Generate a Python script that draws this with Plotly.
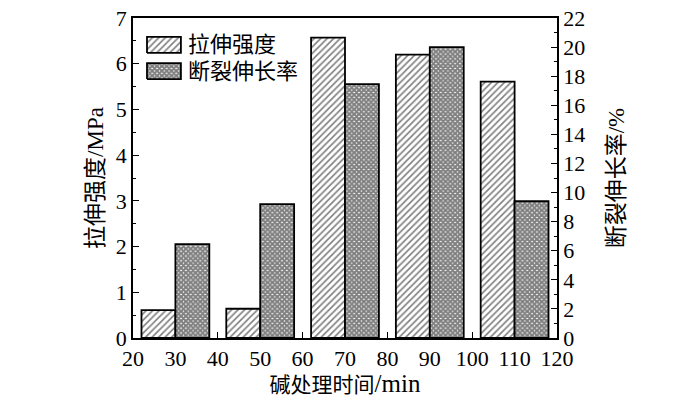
import plotly.graph_objects as go

time_min = [30, 50, 70, 90, 110]
tensile_mpa = [0.61, 0.64, 6.57, 6.20, 5.61]
elongation_pct = [6.45, 9.2, 17.45, 20.0, 9.4]
name_tensile = "拉伸强度"
name_elong = "断裂伸长率"

FONT = "Liberation Serif, Times New Roman, Noto Sans CJK SC, serif"
HATCH = dict(shape="/", fgcolor="black", bgcolor="white", size=4.6, solidity=0.35)
CROSS = dict(shape="x", fgcolor="black", bgcolor="white", size=3.4, solidity=0.85)

fig = go.Figure()
fig.add_trace(go.Bar(
    x=time_min, y=tensile_mpa, name=name_tensile, yaxis="y",
    width=8, offset=-8, showlegend=False,
    marker=dict(color="white", line=dict(color="black", width=1.8), pattern=HATCH),
))
fig.add_trace(go.Bar(
    x=time_min, y=elongation_pct, name=name_elong, yaxis="y2",
    width=8, offset=0, showlegend=False,
    marker=dict(color="white", line=dict(color="black", width=1.8), pattern=CROSS),
))

# custom legend keys (drawn on a hidden overlay axis pair spanning the plot area)
legend_keys = [(name_tensile, HATCH, 0.916), (name_elong, CROSS, 0.834)]
kx0, kx1, kh = 0.033, 0.113, 0.05
for name, pat, yc in legend_keys:
    fig.add_trace(go.Scatter(
        x=[kx0, kx1, kx1, kx0, kx0], y=[yc - kh / 2, yc - kh / 2, yc + kh / 2, yc + kh / 2, yc - kh / 2],
        xaxis="x2", yaxis="y3", mode="lines", fill="toself", fillcolor="white",
        fillpattern=pat, line=dict(color="black", width=1.8), showlegend=False, hoverinfo="skip",
    ))
    fig.add_annotation(x=0.125, y=yc, xref="x2", yref="y3", text=name, showarrow=False,
                       xanchor="left", yanchor="middle", font=dict(family=FONT, size=22, color="black"))

axis_common = dict(showline=True, linecolor="black", linewidth=1.5, ticks="inside",
                   ticklen=6, tickwidth=1.2, tickcolor="black", showgrid=False, zeroline=False,
                   automargin=False, ticklabeloverflow="allow",
                   tickfont=dict(family=FONT, size=22, color="black"))

fig.update_layout(
    width=700, height=397,
    margin=dict(l=133, r=143, t=18, b=59),
    paper_bgcolor="white", plot_bgcolor="white",
    barmode="overlay",
    font=dict(family=FONT, color="black"),
    xaxis=dict(range=[20, 120], tick0=20, dtick=10, mirror=True,
               title=dict(text="碱处理时间<span style='font-size:25px'>/min</span>",
                          font=dict(family=FONT, size=21), standoff=2),
               **axis_common),
    yaxis=dict(range=[0, 7], dtick=1,
               minor=dict(ticks="inside", dtick=0.5, ticklen=3, tickcolor="black"),
               title=dict(text="拉伸强度/MPa", font=dict(family=FONT, size=23), standoff=6),
               **axis_common),
    yaxis2=dict(range=[0, 22], dtick=2, overlaying="y", side="right",
                minor=dict(ticks="inside", dtick=1, ticklen=3, tickcolor="black"),
                title=dict(text="断裂伸长率/%", font=dict(family=FONT, size=23), standoff=24),
                **axis_common),
    xaxis2=dict(range=[0, 1], overlaying="x", visible=False, fixedrange=True),
    yaxis3=dict(range=[0, 1], overlaying="y", visible=False, fixedrange=True),
    showlegend=False,
)

fig.write_html("out.html", config={"displayModeBar": False},
               post_script="document.body.style.margin='0';document.body.style.overflow='hidden';")
